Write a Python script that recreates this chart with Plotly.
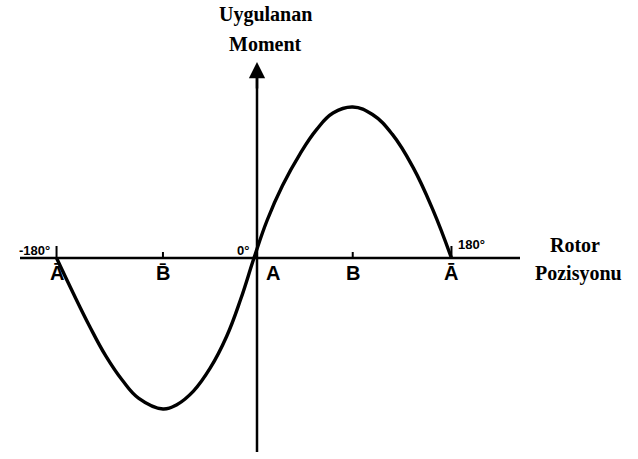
import plotly.graph_objects as go

# Rotor position (degrees) and applied moment (normalized)
rotor_deg = [-180, -165, -150, -135, -120, -105, -83, -70, -55, -40, -25, -12, 0,
             12, 26, 42, 57, 72, 90, 108, 126, 145, 163, 180]
moment = [0.0, -0.23, -0.45, -0.65, -0.81, -0.93, -1.0, -0.97, -0.88, -0.73, -0.52, -0.27, 0.0,
          0.25, 0.48, 0.69, 0.85, 0.96, 1.0, 0.95, 0.82, 0.60, 0.32, 0.0]

tick_deg = [-180, -83, 0, 90, 180]
tick_letters = ["Ā", "B̄", "A", "B", "Ā"]
degree_labels_deg = [-180, 0, 180]
degree_labels = ["-180°", "0°", "180°"]

W, H = 638, 459
PX_PER_DEG = 1.097
X0_PX = 254
Y0_PX = 258
PX_PER_UNIT = 151

def xd(px):
    return (px - X0_PX) / PX_PER_DEG

def yd(py):
    return (Y0_PX - py) / PX_PER_UNIT

fig = go.Figure()
fig.add_trace(go.Scatter(x=rotor_deg, y=moment, mode="lines",
                         line=dict(color="black", width=3.4, shape="spline", smoothing=1.2),
                         hoverinfo="skip", showlegend=False))

shapes = []
shapes.append(dict(type="line", xref="x", yref="y", x0=xd(20), x1=xd(520), y0=0, y1=0,
                   line=dict(color="black", width=2.5)))
shapes.append(dict(type="line", xref="x", yref="y", x0=xd(257), x1=xd(257), y0=yd(452), y1=yd(75),
                   line=dict(color="black", width=2.5)))
for d in [t for t in tick_deg if t != 0]:
    h = 12 if abs(d) == 180 else 6
    shapes.append(dict(type="line", xref="x", yref="y", x0=d, x1=d, y0=0, y1=h / PX_PER_UNIT,
                       line=dict(color="black", width=2)))

annotations = []
annotations.append(dict(x=xd(257), y=yd(62), ax=xd(257), ay=yd(90), xref="x", yref="y",
                        axref="x", ayref="y", text="", showarrow=True, arrowhead=2,
                        arrowsize=1.3, arrowwidth=2.5, arrowcolor="black"))
for d, t in zip(tick_deg, tick_letters):
    px = X0_PX + d * PX_PER_DEG + (19 if d == 0 else 0)
    annotations.append(dict(x=xd(px), y=yd(273), xref="x", yref="y", text="<b>" + t + "</b>",
                            showarrow=False,
                            font=dict(family="Liberation Sans", size=20, color="black"),
                            xanchor="center", yanchor="middle"))
deg_pos = {-180: (34, 250), 0: (243, 250), 180: (471, 244)}
for d, t in zip(degree_labels_deg, degree_labels):
    px, py = deg_pos[d]
    annotations.append(dict(x=xd(px), y=yd(py), xref="x", yref="y", text="<b>" + t + "</b>",
                            showarrow=False,
                            font=dict(family="Liberation Sans Narrow, Liberation Sans", size=13, color="black"),
                            xanchor="center", yanchor="middle"))
serif = dict(family="Liberation Serif", size=20, color="black")
annotations.append(dict(x=xd(265), y=yd(14), xref="x", yref="y", text="<b>Uygulanan</b>",
                        showarrow=False, font=serif, xanchor="center", yanchor="middle"))
annotations.append(dict(x=xd(265), y=yd(44), xref="x", yref="y", text="<b>Moment</b>",
                        showarrow=False, font=serif, xanchor="center", yanchor="middle"))
annotations.append(dict(x=xd(575), y=yd(245), xref="x", yref="y", text="<b>Rotor</b>",
                        showarrow=False, font=serif, xanchor="center", yanchor="middle"))
annotations.append(dict(x=xd(578), y=yd(273), xref="x", yref="y", text="<b>Pozisyonu</b>",
                        showarrow=False, font=serif, xanchor="center", yanchor="middle"))

fig.update_layout(
    width=W, height=H,
    margin=dict(l=0, r=0, t=0, b=0),
    paper_bgcolor="white", plot_bgcolor="white",
    xaxis=dict(range=[xd(0), xd(W)], visible=False, fixedrange=True),
    yaxis=dict(range=[yd(H), yd(0)], visible=False, fixedrange=True),
    shapes=shapes, annotations=annotations,
)
fig.write_html("out.html", config={"displayModeBar": False},
               post_script="document.body.style.margin='0';document.body.style.overflow='hidden';")
